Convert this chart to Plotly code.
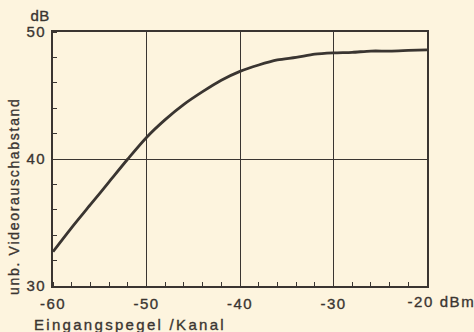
import plotly.graph_objects as go

# Data
pegel_dbm = [-60, -58, -56, -54, -52, -50, -48, -46, -44, -42, -40, -38, -36, -34, -32, -30, -28, -26, -24, -22, -20]
abstand_db = [32.7, 34.6, 36.4, 38.2, 40.0, 41.7, 43.1, 44.3, 45.3, 46.2, 46.9, 47.4, 47.8, 48.0, 48.25, 48.35, 48.4, 48.5, 48.5, 48.55, 48.6]
x_ticks = [-60, -50, -40, -30, -20]
x_ticktext = ["-60", "-50", "-40", "-30", ""]
y_ticks = [30, 40, 50]

BG = "#fdf4de"
INK = "#3a3531"
FONT = "Liberation Sans, Arial, Helvetica, sans-serif"

L, R, T, B = 53, 47, 32, 46
W, H = 474, 332
PW, PH = W - L - R, H - T - B

def px(xp):
    return (xp - L) / PW

def py(yp):
    return (H - B - yp) / PH

fig = go.Figure()
fig.add_trace(go.Scatter(x=pegel_dbm, y=abstand_db, mode="lines",
                         line=dict(color=INK, width=2.8, shape="spline", smoothing=0.8),
                         hoverinfo="skip", showlegend=False))

fig.update_layout(
    width=W, height=H,
    margin=dict(l=L, r=R, t=T, b=B),
    paper_bgcolor=BG, plot_bgcolor=BG,
    font=dict(family=FONT, color=INK, size=15),
    showlegend=False,
    xaxis=dict(range=[-60, -20], tickvals=x_ticks, ticktext=x_ticktext,
               showgrid=True, gridcolor=INK, gridwidth=1.2,
               showline=True, linecolor=INK, linewidth=2, mirror=True,
               ticks="", zeroline=False, ticklabelstandoff=3,
               tickfont=dict(size=15, family=FONT, color=INK),
               minor=dict(ticks="inside", dtick=2, ticklen=4, tickwidth=1.2, tickcolor=INK, showgrid=False)),
    yaxis=dict(range=[30, 50], tickvals=y_ticks,
               showgrid=True, gridcolor=INK, gridwidth=1.2,
               showline=True, linecolor=INK, linewidth=2, mirror=True,
               ticks="", zeroline=False, ticklabelstandoff=2,
               tickfont=dict(size=15, family=FONT, color=INK),
               minor=dict(ticks="inside", dtick=2, ticklen=4, tickwidth=1.2, tickcolor=INK, showgrid=False)),
)

ann = dict(xref="paper", yref="paper", showarrow=False, xanchor="center", yanchor="middle",
           font=dict(family=FONT, size=15, color=INK))
fig.add_annotation(text="dB", x=px(39.5), y=py(16), **ann)
fig.add_annotation(text="-20 dBm", x=px(441), y=py(301), **ann)
fig.add_annotation(text="Eingangspegel /Kanal", x=px(130), y=py(324), **ann)
fig.add_annotation(text="unb. Videorauschabstand", x=px(13), y=py(196.5), textangle=-90,
                   **dict(ann, font=dict(family=FONT, size=14, color=INK)))

post = (
    "document.body.style.margin='0';document.body.style.padding='0';"
    "document.body.style.background='" + BG + "';"
    "document.documentElement.style.background='" + BG + "';"
    "document.body.style.overflow='hidden';"
    "document.querySelectorAll('text.annotation-text').forEach(function(t){"
    "  var s=t.textContent; var ls='1.6px';"
    "  if(s.indexOf('Eingangs')===0){ls='2.3px';}"
    "  if(s.indexOf('unb.')===0){ls='1.7px';}"
    "  if(s==='dB'){ls='0.5px';}"
    "  t.style.letterSpacing=ls;});"
    "document.querySelectorAll('.xtick text, .ytick text').forEach(function(t){t.style.letterSpacing='1.4px';});"
    "document.querySelectorAll('.main-svg text, .infolayer text').forEach(function(t){"
    "  t.style.stroke='" + INK + "'; t.style.strokeWidth='0.35px';});"
)

fig.write_html("out.html", config={"displayModeBar": False}, post_script=post)
